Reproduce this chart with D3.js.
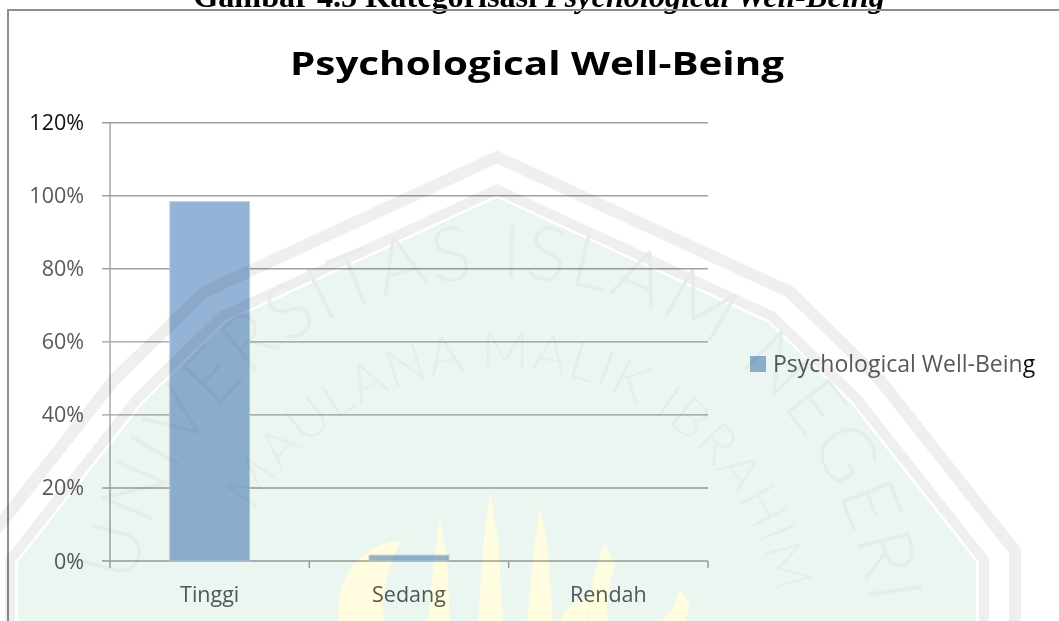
<!DOCTYPE html>
<html>
<head>
<meta charset="utf-8">
<script src="https://cdn.jsdelivr.net/npm/d3@7"></script>
<style>
  html, body { margin: 0; padding: 0; background: #fff; }
  svg { display: block; }
</style>
</head>
<body>
<div id="chart"></div>
<script>
// Chart data
const categories = ['Tinggi', 'Sedang', 'Rendah'];
const values = [0.984, 0.016, 0];
const yTicks = [0, 0.2, 0.4, 0.6, 0.8, 1.0, 1.2];
const yTickLabels = ['0%', '20%', '40%', '60%', '80%', '100%', '120%'];
const seriesName = 'Psychological Well-Being';
const chartTitle = 'Psychological Well-Being';

const W = 1059, H = 621;
const plot = { left: 110, right: 708, top: 122.7, bottom: 561 };
const barColor = '#95b3d7';
const labelColor = '#595959';
const gridColor = '#a0a0a0';

const svg = d3.select('#chart').append('svg')
  .attr('width', W).attr('height', H)
  .attr('viewBox', `0 0 ${W} ${H}`);

const y = d3.scaleLinear().domain([0, 1.2]).range([plot.bottom, plot.top]);
const x = d3.scaleBand().domain(categories).range([plot.left, plot.right]).padding(0);

// stretch a text horizontally so it spans a given width around its anchor
function fitWidth(sel, cxPos, target) {
  const w = sel.node().getComputedTextLength();
  const k = target / w;
  sel.attr('x', 0).attr('transform', `translate(${cxPos},0) scale(${k},1)`);
}

// Caption above the chart (cut off at the top of the picture)
const caption = svg.append('text')
  .attr('y', 7)
  .attr('text-anchor', 'middle')
  .attr('font-family', '"Liberation Serif", "DejaVu Serif", serif')
  .attr('font-weight', 'bold')
  .attr('font-size', 31)
  .attr('fill', '#000');
caption.append('tspan').text('Gambar 4.5 Kategorisasi ');
caption.append('tspan').attr('font-style', 'italic').text('Psychological Well-Being');
fitWidth(caption, 539, 692);

// Chart frame
svg.append('path')
  .attr('d', `M8,${H + 2} L8,10 L${W + 2},10`)
  .attr('fill', 'none')
  .attr('stroke', '#8e8e8e')
  .attr('stroke-width', 2);

// Title
const title = svg.append('text')
  .attr('y', 75)
  .attr('text-anchor', 'middle')
  .attr('font-family', '"Open Sans", sans-serif')
  .attr('font-weight', 'bold')
  .attr('font-size', 33)
  .attr('fill', '#000')
  .text(chartTitle);
fitWidth(title, 537, 494);

const g = svg.append('g');

// Gridlines (extend left as the major tick marks)
g.selectAll('.grid')
  .data(yTicks)
  .enter().append('line')
  .attr('x1', plot.left - 8).attr('x2', plot.right)
  .attr('y1', (d) => y(d)).attr('y2', (d) => y(d))
  .attr('stroke', gridColor)
  .attr('stroke-width', 1.4);

// Y axis line
g.append('line')
  .attr('x1', plot.left).attr('x2', plot.left)
  .attr('y1', y(1.2)).attr('y2', y(0))
  .attr('stroke', gridColor).attr('stroke-width', 1.4);

// X axis ticks at category boundaries
const boundaries = categories.map((c) => x(c)).concat([x(categories[categories.length - 1]) + x.bandwidth()]);
g.selectAll('.xtick')
  .data(boundaries)
  .enter().append('line')
  .attr('x1', (d) => d).attr('x2', (d) => d)
  .attr('y1', y(0)).attr('y2', y(0) + 7)
  .attr('stroke', gridColor).attr('stroke-width', 1.4);

// Bars
const barW = x.bandwidth() * 0.4;
g.selectAll('.bar')
  .data(categories.map((c, i) => ({ c, v: values[i] })).filter((d) => d.v > 0))
  .enter().append('rect')
  .attr('x', (d) => x(d.c) + (x.bandwidth() - barW) / 2)
  .attr('y', (d) => y(d.v))
  .attr('width', barW)
  .attr('height', (d) => y(0) - y(d.v))
  .attr('fill', barColor)
  .attr('stroke', '#b9cde5')
  .attr('stroke-width', 1);

// Y labels
g.selectAll('.ylab')
  .data(yTicks)
  .enter().append('text')
  .attr('x', 84)
  .attr('y', (d) => y(d) + 7.5)
  .attr('text-anchor', 'end')
  .attr('font-family', '"Open Sans", sans-serif')
  .attr('font-size', 21.5)
  .attr('fill', (d, i) => (i === yTicks.length - 1 ? '#111' : labelColor))
  .text((d, i) => yTickLabels[i]);

// X labels
g.selectAll('.xlab')
  .data(categories)
  .enter().append('text')
  .attr('x', (d) => x(d) + x.bandwidth() / 2)
  .attr('y', 602)
  .attr('text-anchor', 'middle')
  .attr('font-family', '"Open Sans", sans-serif')
  .attr('font-size', 21.5)
  .attr('fill', labelColor)
  .text((d) => d);

// Legend
const legend = svg.append('g');
legend.append('rect')
  .attr('x', 750).attr('y', 356)
  .attr('width', 16).attr('height', 16)
  .attr('fill', barColor);
const legText = legend.append('text')
  .attr('x', 773).attr('y', 372)
  .attr('font-family', '"Open Sans", sans-serif')
  .attr('font-size', 23)
  .attr('fill', labelColor);
legText.append('tspan').text(seriesName.slice(0, -1));
legText.append('tspan').attr('fill', '#111').text(seriesName.slice(-1));

// Watermark (university seal), multiplied over the chart
const wm = svg.append('g').style('mix-blend-mode', 'multiply');
const cx = 497, cy = 700;
const halfOutline = [[497, 157], [790, 292], [880, 380], [1015, 551], [1015, 900]];
const fullOutline = halfOutline.concat(halfOutline.slice(1).map(([px, py]) => [2 * cx - px, py]).reverse());
const shrink = (pts, k) => pts.map(([px, py]) => [cx + (px - cx) * k, cy + (py - cy) * k]);
const polyLine = d3.line().curve(d3.curveLinearClosed);

wm.append('path')
  .attr('d', polyLine(shrink(fullOutline, 0.925)))
  .attr('fill', '#ebf6f0');
wm.append('path')
  .attr('d', polyLine(fullOutline))
  .attr('fill', 'none').attr('stroke', '#efefef').attr('stroke-width', 12);
wm.append('path')
  .attr('d', polyLine(shrink(fullOutline, 0.94)))
  .attr('fill', 'none').attr('stroke', '#efefef').attr('stroke-width', 10);

// Arc text paths
const tcx = 500, tcy = 650;
const arcPath = (r) => `M${tcx - r},${tcy} A${r},${r} 0 1,1 ${tcx + r},${tcy} A${r},${r} 0 1,1 ${tcx - r},${tcy}`;
const defs = svg.append('defs');
defs.append('path').attr('id', 'arcOuter').attr('d', arcPath(372));
defs.append('path').attr('id', 'arcInner').attr('d', arcPath(282));

wm.append('text')
  .attr('font-family', 'Lato, "Open Sans", sans-serif')
  .attr('font-weight', 300)
  .attr('font-size', 76)
  .attr('letter-spacing', 3)
  .attr('fill', '#e6ede9')
  .append('textPath')
  .attr('href', '#arcOuter')
  .attr('startOffset', '25.5%')
  .attr('text-anchor', 'middle')
  .text('UNIVERSITAS ISLAM NEGERI');

wm.append('text')
  .attr('font-family', 'Lato, "Open Sans", sans-serif')
  .attr('font-weight', 300)
  .attr('font-size', 52)
  .attr('letter-spacing', 2)
  .attr('fill', '#e6ede9')
  .append('textPath')
  .attr('href', '#arcInner')
  .attr('startOffset', '27.5%')
  .attr('text-anchor', 'middle')
  .text('MAULANA MALIK IBRAHIM');

// Calligraphy strokes (pale yellow)
const strokes = [
  'M338,621 C336,575 360,545 402,540 C388,565 380,595 384,621 Z',
  'M428,621 L434,560 L440,517 L447,560 L450,621 Z',
  'M478,621 L484,540 L490,493 L498,540 L503,621 Z',
  'M527,621 L534,550 L540,507 L548,550 L553,621 Z',
  'M588,621 C590,585 598,560 605,543 L615,565 C608,590 606,605 608,621 Z',
  'M662,621 L672,610 L680,590 L690,605 L685,621 Z',
  'M560,621 C566,604 585,594 600,596 C590,604 586,612 587,621 Z',
];
wm.selectAll('.callig')
  .data(strokes)
  .enter().append('path')
  .attr('d', (d) => d)
  .attr('fill', '#fffce0');
</script>
</body>
</html>
